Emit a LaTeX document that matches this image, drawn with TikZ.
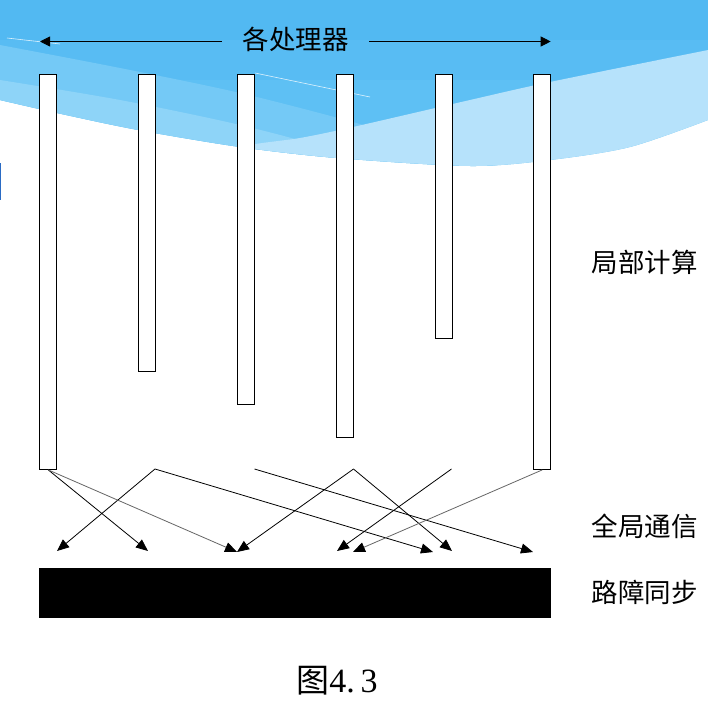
\documentclass[tikz,border=0pt]{standalone}
\usepackage{fontspec}
\newfontfamily\cjk{Noto Sans CJK SC}
\newfontfamily\digitfont{Liberation Serif}
\usetikzlibrary{arrows.meta}
\definecolor{bgdark}{HTML}{52B9F2}
\definecolor{bgmid}{HTML}{5EC0F4}
\definecolor{bandA}{HTML}{74C9F6}
\definecolor{bandB}{HTML}{8ED4F8}
\definecolor{bandright}{HTML}{B6E2FB}
\definecolor{greyline}{HTML}{666666}
\definecolor{markblue}{HTML}{2A6BC4}
\begin{document}
\begin{tikzpicture}[x=1pt,y=-1pt,
  bar/.style={draw=black, fill=white, line width=0.9pt, minimum width=17pt, inner sep=0pt, anchor=north west},
  lab/.style={font=\cjk\fontsize{26.5}{30}\selectfont, inner sep=0pt},
  msg/.style={line width=0.8pt, draw=black, -{Triangle[length=12pt,width=10pt,color=black]}},
  greymsg/.style={msg, draw=greyline},
  topmsg/.style={line width=0.8pt, draw=black, -{Triangle[length=10pt,width=10pt]}},
]
\useasboundingbox (0,0) rectangle (726,706);
\fill[white] (0,0) rectangle (726,706);
% background waves
\begin{scope}
\clip (0,0) -- (708,0) -- plot[smooth] coordinates {(708,120) (630,147) (550,160) (470,166) (337,158) (240,147) (138,130) (57,113) (0,100)} -- cycle;
\fill[bgdark] (0,0) rectangle (708,60);
\fill[bgmid] (0,60) rectangle (708,170);
\fill[bgdark!50!bgmid] (0,40) rectangle (708,80);
\fill[bandA] plot[smooth] coordinates {(0,45) (120,68) (240,93) (360,124) (480,160) (560,190)} -- (0,190) -- cycle;
\fill[bandB] plot[smooth] coordinates {(0,80) (120,100) (240,125) (330,150) (420,190)} -- (0,190) -- cycle;
\fill[bandright] plot[smooth] coordinates {(200,162) (245,146) (300,138) (353,127) (470,100) (550,82) (708,50)} -- (708,190) -- (200,190) -- cycle;
\end{scope}
\draw[white, line width=0.6pt, opacity=0.8] (7,38) -- (60,44);
\draw[white, line width=0.6pt, opacity=0.8] (255,73) -- (370,97);
\fill[markblue] (0,163) rectangle (1.2,200);

% title and top arrows
\node[lab] (title) at (295.5,39.7) {各处理器};
\coordinate (tls) at (221.7,41.5);
\coordinate (tle) at (40,41.5);
\coordinate (trs) at (369,41.5);
\coordinate (tre) at (550.7,41.5);
\draw[topmsg] (tls) -- (tle);
\draw[topmsg] (trs) -- (tre);

% processor bars
\node[bar, minimum height=395pt] (b1) at (39.3,74) {};
\node[bar, minimum height=297pt] (b2) at (138.3,74) {};
\node[bar, minimum height=330pt] (b3) at (237.3,74) {};
\node[bar, minimum height=363pt] (b4) at (335.7,74) {};
\node[bar, minimum height=264pt] (b5) at (434.7,74) {};
\node[bar, minimum height=395pt] (b6) at (533.3,74) {};

% barrier
\node[fill=black, minimum width=512pt, minimum height=50pt, anchor=north west, inner sep=0pt] (barrier) at (39,568) {};

% communication
\coordinate (A) at (155,469);
\coordinate (B) at (254.5,469);
\coordinate (C) at (353.5,469);
\coordinate (D) at (451.5,469);
\coordinate (e1) at (57,551);
\coordinate (e2) at (148,551);
\coordinate (e3) at (237,552);
\coordinate (e4) at (337,551);
\coordinate (e5) at (353,552);
\coordinate (e6) at (433,552);
\coordinate (e7) at (452,551);
\coordinate (e8) at (533,552);
\draw[msg] (A) -- (e1);
\draw[msg] (A) -- (e6);
\draw[msg] (b1.south) -- (e2);
\draw[greymsg] (b1.south) -- (e3);
\draw[msg] (C) -- (e3);
\draw[msg] (C) -- (e7);
\draw[msg] (B) -- (e8);
\draw[msg] (D) -- (e4);
\draw[greymsg] (b6.south) -- (e5);

% labels
\node[lab, anchor=west] (l1) at (591.7,262.5) {局部计算};
\node[lab, anchor=west] (l2) at (591.7,526) {全局通信};
\node[lab, anchor=west] (l3) at (591.7,592.5) {路障同步};

% caption
\node[inner sep=0pt] (cap) at (337,681) {{\cjk\fontsize{33}{36}\selectfont 图}{\digitfont\fontsize{34}{36}\selectfont 4.\hspace{6pt}3}};
\end{tikzpicture}
\end{document}
